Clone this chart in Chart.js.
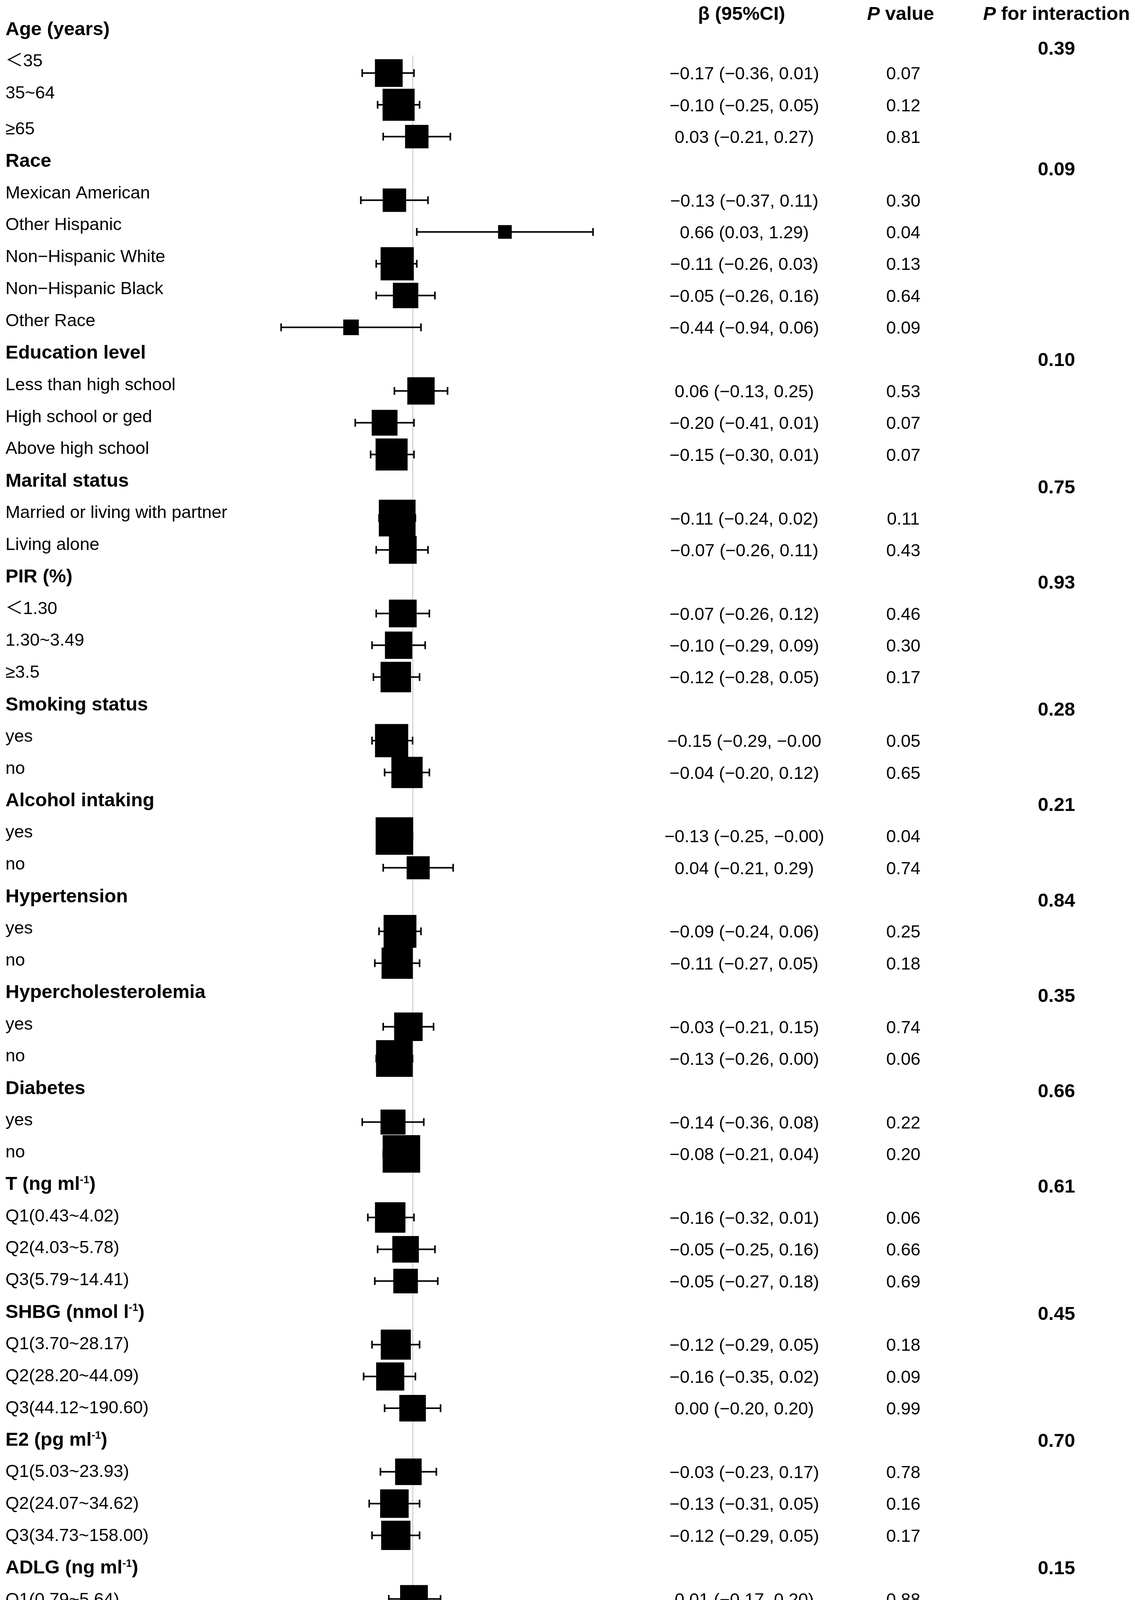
<!DOCTYPE html>
<html>
<head>
<meta charset="utf-8">
<script src="https://cdn.jsdelivr.net/npm/chart.js@4.4.1/dist/chart.umd.min.js"></script>
<style>
html,body{margin:0;padding:0;background:#ffffff;}
canvas{display:block;}
</style>
</head>
<body>
<canvas id="c" width="2905" height="4370" style="width:2905px;height:4370px"></canvas>
<script>
// ---------------- DATA ----------------
const rowLabels = [
  "Age (years)", "＜35", "35~64", "≥65",
  "Race", "Mexican American", "Other Hispanic", "Non−Hispanic White", "Non−Hispanic Black", "Other Race",
  "Education level", "Less than high school", "High school or ged", "Above high school",
  "Marital status", "Married or living with partner", "Living alone",
  "PIR (%)", "＜1.30", "1.30~3.49", "≥3.5",
  "Smoking status", "yes", "no",
  "Alcohol intaking", "yes", "no",
  "Hypertension", "yes", "no",
  "Hypercholesterolemia", "yes", "no",
  "Diabetes", "yes", "no",
  "T (ng ml⁻¹)", "Q1(0.43~4.02)", "Q2(4.03~5.78)", "Q3(5.79~14.41)",
  "SHBG (nmol l⁻¹)", "Q1(3.70~28.17)", "Q2(28.20~44.09)", "Q3(44.12~190.60)",
  "E2 (pg ml⁻¹)", "Q1(5.03~23.93)", "Q2(24.07~34.62)", "Q3(34.73~158.00)",
  "ADLG (ng ml⁻¹)", "Q1(0.79~5.64)", "Q2(5.66~8.30)", "Q3(8.33~55.17)"
];
const headerRows = [0, 4, 10, 14, 17, 21, 24, 27, 30, 33, 36, 40, 44, 48];
const pInteraction = ["0.39","0.09","0.10","0.75","0.93","0.28","0.21","0.84","0.35","0.66","0.61","0.45","0.70","0.15"];

const betas = [
  null, -0.17, -0.10, 0.03,
  null, -0.13, 0.66, -0.11, -0.05, -0.44,
  null, 0.06, -0.20, -0.15,
  null, -0.11, -0.07,
  null, -0.07, -0.10, -0.12,
  null, -0.15, -0.04,
  null, -0.13, 0.04,
  null, -0.09, -0.11,
  null, -0.03, -0.13,
  null, -0.14, -0.08,
  null, -0.16, -0.05, -0.05,
  null, -0.12, -0.16, 0.00,
  null, -0.03, -0.13, -0.12,
  null, 0.01, -0.07, -0.21
];
const lowers = [
  null, -0.36, -0.25, -0.21,
  null, -0.37, 0.03, -0.26, -0.26, -0.94,
  null, -0.13, -0.41, -0.30,
  null, -0.24, -0.26,
  null, -0.26, -0.29, -0.28,
  null, -0.29, -0.20,
  null, -0.25, -0.21,
  null, -0.24, -0.27,
  null, -0.21, -0.26,
  null, -0.36, -0.21,
  null, -0.32, -0.25, -0.27,
  null, -0.29, -0.35, -0.20,
  null, -0.23, -0.31, -0.29,
  null, -0.17, -0.26, -0.39
];
const uppers = [
  null, 0.01, 0.05, 0.27,
  null, 0.11, 1.29, 0.03, 0.16, 0.06,
  null, 0.25, 0.01, 0.01,
  null, 0.02, 0.11,
  null, 0.12, 0.09, 0.05,
  null, -0.00, 0.12,
  null, -0.00, 0.29,
  null, 0.06, 0.05,
  null, 0.15, 0.00,
  null, 0.08, 0.04,
  null, 0.01, 0.16, 0.18,
  null, 0.05, 0.02, 0.20,
  null, 0.17, 0.05, 0.05,
  null, 0.20, 0.11, -0.04
];
const betaLabels = [
  "", "−0.17 (−0.36, 0.01)", "−0.10 (−0.25, 0.05)", "0.03 (−0.21, 0.27)",
  "", "−0.13 (−0.37, 0.11)", "0.66 (0.03, 1.29)", "−0.11 (−0.26, 0.03)", "−0.05 (−0.26, 0.16)", "−0.44 (−0.94, 0.06)",
  "", "0.06 (−0.13, 0.25)", "−0.20 (−0.41, 0.01)", "−0.15 (−0.30, 0.01)",
  "", "−0.11 (−0.24, 0.02)", "−0.07 (−0.26, 0.11)",
  "", "−0.07 (−0.26, 0.12)", "−0.10 (−0.29, 0.09)", "−0.12 (−0.28, 0.05)",
  "", "−0.15 (−0.29, −0.00", "−0.04 (−0.20, 0.12)",
  "", "−0.13 (−0.25, −0.00)", "0.04 (−0.21, 0.29)",
  "", "−0.09 (−0.24, 0.06)", "−0.11 (−0.27, 0.05)",
  "", "−0.03 (−0.21, 0.15)", "−0.13 (−0.26, 0.00)",
  "", "−0.14 (−0.36, 0.08)", "−0.08 (−0.21, 0.04)",
  "", "−0.16 (−0.32, 0.01)", "−0.05 (−0.25, 0.16)", "−0.05 (−0.27, 0.18)",
  "", "−0.12 (−0.29, 0.05)", "−0.16 (−0.35, 0.02)", "0.00 (−0.20, 0.20)",
  "", "−0.03 (−0.23, 0.17)", "−0.13 (−0.31, 0.05)", "−0.12 (−0.29, 0.05)",
  "", "0.01 (−0.17, 0.20)", "−0.07 (−0.26, 0.11)", "−0.21 (−0.39, −0.04)"
];
const pValues = [
  "", "0.07", "0.12", "0.81",
  "", "0.30", "0.04", "0.13", "0.64", "0.09",
  "", "0.53", "0.07", "0.07",
  "", "0.11", "0.43",
  "", "0.46", "0.30", "0.17",
  "", "0.05", "0.65",
  "", "0.04", "0.74",
  "", "0.25", "0.18",
  "", "0.74", "0.06",
  "", "0.22", "0.20",
  "", "0.06", "0.66", "0.69",
  "", "0.18", "0.09", "0.99",
  "", "0.78", "0.16", "0.17",
  "", "0.88", "0.46", "0.01"
];
// relative box weights
const weights = [
  null, 0.71, 0.82, 0.60,
  null, 0.60, 0.35, 0.85, 0.65, 0.40,
  null, 0.70, 0.66, 0.82,
  null, 0.94, 0.71,
  null, 0.71, 0.70, 0.78,
  null, 0.85, 0.80,
  null, 0.96, 0.59,
  null, 0.84, 0.80,
  null, 0.73, 0.94,
  null, 0.64, 0.96,
  null, 0.78, 0.68, 0.63,
  null, 0.77, 0.72, 0.68,
  null, 0.68, 0.73, 0.75,
  null, 0.71, 0.71, 0.75
];
const xTicks = [-1, -0.5, 0, 0.5, 1, 1.5];
const columnHeaders = ["β (95%CI)", "P value", "P for interaction"];

// ---------------- STYLE / LAYOUT ----------------
const FONT = "'Liberation Sans', Arial, 'Noto Sans CJK SC', sans-serif";
const BOX_UNIT = 100;           // px per weight unit
const REG = 45, BOLD = 49;
const COL_BETA = 1905, COL_P = 2312, COL_PINT = 2704, LEFT_X = 14;

const points = [];
betas.forEach((b, i) => { if (b !== null) points.push({x: b, y: i, w: weights[i]}); });

function drawRich(ctx, text, x, yc, size, weight, align) {
  // split into normal / superscript segments
  const segs = [];
  for (const ch of text) {
    const sup = (ch === '⁻' || ch === '¹');
    const c = ch === '⁻' ? '-' : (ch === '¹' ? '1' : ch);
    if (segs.length && segs[segs.length-1].sup === sup) segs[segs.length-1].t += c;
    else segs.push({t: c, sup});
  }
  const supSize = Math.round(size * 0.56);
  let total = 0;
  segs.forEach(s => {
    ctx.font = weight + ' ' + (s.sup ? supSize : size) + 'px ' + FONT;
    s.w = ctx.measureText(s.t).width; total += s.w;
  });
  let cx = align === 'center' ? x - total / 2 : x;
  const base = yc + size * 0.36;
  segs.forEach(s => {
    ctx.font = weight + ' ' + (s.sup ? supSize : size) + 'px ' + FONT;
    ctx.textAlign = 'left';
    ctx.textBaseline = 'alphabetic';
    ctx.fillText(s.t, cx, s.sup ? base - size * 0.36 : base);
    cx += s.w;
  });
}

function drawItalicLead(ctx, lead, rest, xc, yc, size) {
  ctx.textBaseline = 'alphabetic';
  ctx.textAlign = 'left';
  ctx.font = 'italic bold ' + size + 'px ' + FONT;
  const w1 = ctx.measureText(lead).width;
  ctx.font = 'bold ' + size + 'px ' + FONT;
  const w2 = ctx.measureText(rest).width;
  const x0 = xc - (w1 + w2) / 2;
  const base = yc + size * 0.36;
  ctx.font = 'italic bold ' + size + 'px ' + FONT;
  ctx.fillText(lead, x0, base);
  ctx.font = 'bold ' + size + 'px ' + FONT;
  ctx.fillText(rest, x0 + w1, base);
}

const errorBars = {
  id: 'errorBars',
  beforeDatasetsDraw(chart) {
    const {ctx, scales: {x, y}} = chart;
    ctx.save();
    ctx.strokeStyle = '#000';
    ctx.lineCap = 'butt';
    betas.forEach((b, i) => {
      if (b === null) return;
      const py = y.getPixelForValue(i);
      const x1 = x.getPixelForValue(lowers[i]);
      const x2 = x.getPixelForValue(uppers[i]);
      ctx.lineWidth = 4;
      ctx.beginPath(); ctx.moveTo(x1, py); ctx.lineTo(x2, py); ctx.stroke();
      ctx.lineWidth = 4;
      ctx.beginPath();
      ctx.moveTo(x1, py - 10); ctx.lineTo(x1, py + 10);
      ctx.moveTo(x2, py - 10); ctx.lineTo(x2, py + 10);
      ctx.stroke();
    });
    ctx.restore();
  }
};

const tableText = {
  id: 'tableText',
  afterDraw(chart) {
    const {ctx, scales: {y}} = chart;
    ctx.save();
    ctx.fillStyle = '#000';
    // column headers
    const hy = y.getPixelForValue(-0.89);
    drawRich(ctx, columnHeaders[0], 1898, hy, BOLD, 'bold', 'center');
    drawItalicLead(ctx, 'P', columnHeaders[1].slice(1), 2305, hy, BOLD);
    drawItalicLead(ctx, 'P', columnHeaders[2].slice(1), 2704, hy, BOLD);
    const last = rowLabels.length - 1;
    rowLabels.forEach((lab, k) => {
      const isHead = headerRows.includes(k);
      const rowY = y.getPixelForValue(k);
      const shift = 21.5 * (last - k) / 47 + (k < 3 ? 10 : 0);
      drawRich(ctx, lab, LEFT_X, rowY - shift, isHead ? BOLD : REG, isHead ? 'bold' : 'normal', 'left');
      if (isHead) {
        const pi = pInteraction[headerRows.indexOf(k)];
        drawRich(ctx, pi, COL_PINT, rowY + (k === 0 ? 16.5 : 0), BOLD, 'bold', 'center');
      } else {
        drawRich(ctx, betaLabels[k], COL_BETA, rowY, REG, 'normal', 'center');
        drawRich(ctx, pValues[k], COL_P, rowY, REG, 'normal', 'center');
      }
    });
    ctx.restore();
  }
};

Chart.defaults.font.family = FONT;

new Chart(document.getElementById('c'), {
  type: 'scatter',
  data: {
    datasets: [{
      data: points,
      pointStyle: 'rect',
      backgroundColor: '#000',
      borderWidth: 0,
      pointBorderWidth: 0,
      pointRadius: ctx => (ctx.raw ? ctx.raw.w * BOX_UNIT / Math.SQRT2 : 0),
      pointHoverRadius: ctx => (ctx.raw ? ctx.raw.w * BOX_UNIT / Math.SQRT2 : 0)
    }]
  },
  options: {
    responsive: false,
    animation: false,
    devicePixelRatio: 1,
    events: [],
    layout: { padding: { left: 698, right: 1312, top: 142, bottom: 0 } },
    plugins: { legend: { display: false }, tooltip: { enabled: false } },
    scales: {
      x: {
        type: 'linear',
        min: -1, max: 1.5,
        afterBuildTicks: s => { s.ticks = xTicks.map(v => ({value: v})); },
        afterFit: s => { s.height = 62; },
        border: { display: true, color: '#000', width: 4 },
        grid: {
          drawOnChartArea: true,
          color: c => (c.tick && c.tick.value === 0 ? '#d3d3d3' : 'rgba(0,0,0,0)'),
          lineWidth: 3,
          drawTicks: true,
          tickLength: 14,
          tickWidth: 4,
          tickColor: '#000'
        },
        ticks: {
          color: '#000',
          padding: 8,
          font: { size: 27, family: FONT },
          callback: v => (v < 0 ? '\u2212' : '') + Math.abs(v)
        }
      },
      y: {
        type: 'linear',
        display: false,
        reverse: true,
        min: 0.448,
        max: 51.565
      }
    }
  },
  plugins: [errorBars, tableText]
});
</script>
</body>
</html>
